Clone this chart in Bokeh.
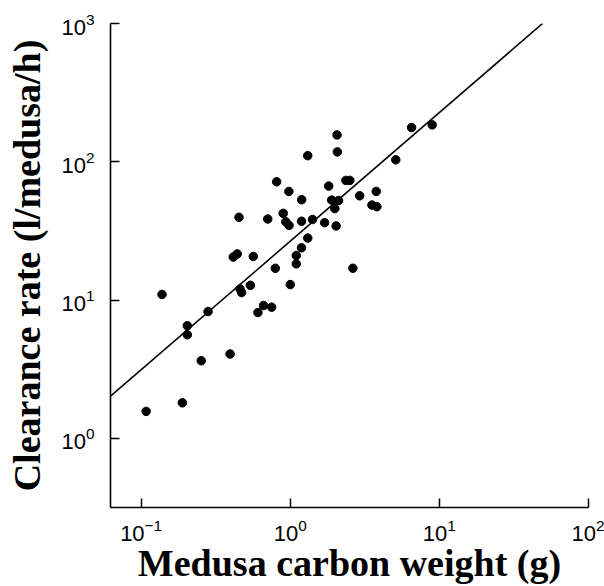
from bokeh.plotting import figure
from bokeh.models import Range1d, FixedTicker
from bokeh.embed import file_html
from bokeh.resources import INLINE

# Medusa carbon weight (g)
carbon_weight = [0.108, 0.189, 0.138, 0.204, 0.204, 0.281, 0.253, 0.395,
                 0.460, 0.472, 0.540, 0.607, 0.662, 0.750, 1.00, 0.794,
                 0.415, 0.441, 0.565, 0.453, 0.706, 0.810, 0.979, 0.897,
                 0.933, 0.982, 1.097, 1.097, 1.193, 1.31, 2.06, 2.07,
                 6.51, 8.95, 5.10, 1.81, 2.36, 2.51, 1.894, 2.107,
                 1.99, 2.92, 3.77, 3.53, 3.81, 1.19, 1.41, 1.70,
                 2.03, 1.31, 1.19, 2.63]
# Clearance rate (l/medusa/h)
clearance_rate = [1.57, 1.81, 11.0, 6.53, 5.62, 8.27, 3.65, 4.08,
                  12.06, 11.35, 12.8, 8.14, 9.14, 8.90, 12.96, 17.0,
                  20.5, 21.6, 20.7, 39.7, 38.6, 71.7, 61.1, 42.4,
                  36.9, 34.7, 21.0, 18.3, 53.2, 110.8, 156.6, 118.0,
                  177.0, 185.0, 103.4, 66.8, 73.4, 73.4, 52.9, 52.5,
                  45.9, 56.8, 61.1, 48.7, 47.4, 37.2, 38.3, 36.3,
                  34.4, 28.1, 23.9, 17.0]

# Regression: clearance = fit_a * weight ** fit_b
fit_a = 26.7
fit_b = 0.93

x_min, x_max = 0.0623, 100
y_min, y_max = 0.317, 1000
x_ticks = [0.1, 1, 10, 100]
y_ticks = [1, 10, 100, 1000]

p = figure(width=604, height=586, x_axis_type="log", y_axis_type="log",
           x_range=Range1d(x_min, x_max), y_range=Range1d(y_min, y_max),
           output_backend="svg", toolbar_location=None,
           min_border_left=110, min_border_right=16, min_border_top=23,
           min_border_bottom=78)
p.outline_line_color = None
p.grid.visible = False
p.background_fill_color = "white"
p.border_fill_color = "white"

fit_x = [x_min, (y_max / fit_a) ** (1 / fit_b)]
fit_y = [fit_a * x ** fit_b for x in fit_x]
p.line(fit_x, fit_y, line_color="black", line_width=1.6)
p.scatter(carbon_weight, clearance_rate, size=8.5, marker="circle",
          fill_color="black", line_color="black")

for ax in p.axis:
    ax.axis_line_color = "black"
    ax.axis_line_width = 1.6
    ax.major_tick_in = 9
    ax.major_tick_out = 0
    ax.major_tick_line_color = "black"
    ax.major_tick_line_width = 1.5
    ax.minor_tick_line_color = None
    ax.major_label_text_font = "Liberation Sans"
    ax.major_label_text_font_size = "22px"
    ax.major_label_text_color = "black"
    ax.axis_label_text_font = "Liberation Serif"
    ax.axis_label_text_font_style = "bold"
    ax.axis_label_text_font_size = "38px"
    ax.axis_label_text_color = "black"

p.xaxis.ticker = FixedTicker(ticks=x_ticks, minor_ticks=[])
p.yaxis.ticker = FixedTicker(ticks=y_ticks, minor_ticks=[])
p.xaxis.axis_label = "Medusa carbon weight (g)"
p.yaxis.axis_label = "Clearance rate (l/medusa/h)"
p.xaxis.major_label_standoff = 11
p.yaxis.major_label_standoff = 16
p.xaxis.axis_label_standoff = -2
p.yaxis.axis_label_standoff = 10

open("out.html", "w").write(file_html(p, INLINE))
